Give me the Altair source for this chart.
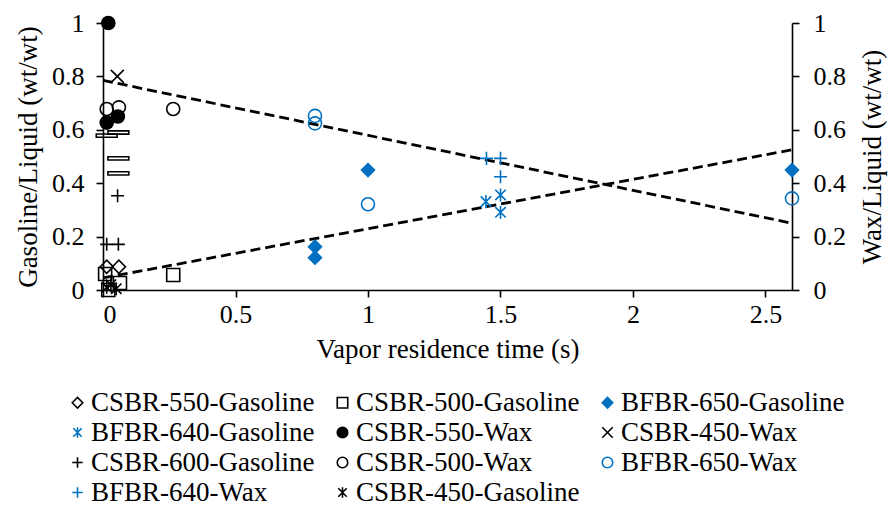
import altair as alt
import pandas as pd

# ---------------- data ----------------
legend_series = [
    "CSBR-550-Gasoline", "CSBR-500-Gasoline", "BFBR-650-Gasoline",
    "BFBR-640-Gasoline", "CSBR-550-Wax", "CSBR-450-Wax",
    "CSBR-600-Gasoline", "CSBR-500-Wax", "BFBR-650-Wax",
    "BFBR-640-Wax", "CSBR-450-Gasoline",
]
extra_series = ["CSBR-600-Wax"]  # drawn but not listed in the legend
all_series = legend_series + extra_series

csbr550_gas_x = [0.014, 0.06]
csbr550_gas_y = [0.087, 0.087]
csbr500_gas_x = [0.008, 0.064, 0.265, 0.02]
csbr500_gas_y = [0.06, 0.026, 0.056, 0.0]
bfbr650_gas_x = [0.8, 0.8, 1.0, 2.6]
bfbr650_gas_y = [0.162, 0.121, 0.449, 0.449]
bfbr640_gas_x = [1.445, 1.5, 1.5]
bfbr640_gas_y = [0.331, 0.356, 0.291]
csbr550_wax_x = [0.02, 0.014, 0.056]
csbr550_wax_y = [1.0, 0.627, 0.65]
csbr450_wax_x = [0.054]
csbr450_wax_y = [0.8]
csbr600_gas_x = [0.055, 0.014, 0.058]
csbr600_gas_y = [0.353, 0.171, 0.171]
csbr500_wax_x = [0.014, 0.06, 0.265]
csbr500_wax_y = [0.678, 0.684, 0.678]
bfbr650_wax_x = [0.8, 0.8, 1.0, 2.6]
bfbr650_wax_y = [0.652, 0.624, 0.321, 0.343]
bfbr640_wax_x = [1.447, 1.5, 1.5]
bfbr640_wax_y = [0.493, 0.493, 0.424]
csbr450_gas_x = [0.014, 0.03, 0.05]
csbr450_gas_y = [0.01, 0.02, 0.005]
csbr600_wax_x = [0.014, 0.058, 0.058, 0.058]
csbr600_wax_y = [0.578, 0.59, 0.493, 0.437]

trend_x = [0.0, 2.6]
wax_trend_y = [0.785, 0.25]
gas_trend_y = [0.045, 0.525]

x_ticks = [0, 0.5, 1, 1.5, 2, 2.5]
y_ticks = [0, 0.2, 0.4, 0.6, 0.8, 1]

# ---------------- styles ----------------
BLUE = "#0070C0"
PLUS = "M-1,0H1M0,-1V1"
XMARK = "M-1,-1L1,1M-1,1L1,-1"
STAR = "M-0.8,-0.8L0.8,0.8M-0.8,0.8L0.8,-0.8M0,-1V1"
DASH = "M-1.6,-0.25H1.6V0.25H-1.6Z"

shape_range = ["diamond", "square", "diamond", STAR, "circle", XMARK,
               PLUS, "circle", "circle", PLUS, STAR, DASH]
stroke_range = ["black", "black", BLUE, BLUE, "black", "black",
                "black", "black", BLUE, BLUE, "black", "black"]
fill_range = ["transparent", "transparent", BLUE, "transparent", "black", "transparent",
              "transparent", "transparent", "transparent", "transparent", "transparent", "transparent"]

series_data = [
    ("CSBR-550-Gasoline", csbr550_gas_x, csbr550_gas_y),
    ("CSBR-500-Gasoline", csbr500_gas_x, csbr500_gas_y),
    ("BFBR-650-Gasoline", bfbr650_gas_x, bfbr650_gas_y),
    ("BFBR-640-Gasoline", bfbr640_gas_x, bfbr640_gas_y),
    ("CSBR-550-Wax", csbr550_wax_x, csbr550_wax_y),
    ("CSBR-450-Wax", csbr450_wax_x, csbr450_wax_y),
    ("CSBR-600-Gasoline", csbr600_gas_x, csbr600_gas_y),
    ("CSBR-500-Wax", csbr500_wax_x, csbr500_wax_y),
    ("BFBR-650-Wax", bfbr650_wax_x, bfbr650_wax_y),
    ("BFBR-640-Wax", bfbr640_wax_x, bfbr640_wax_y),
    ("CSBR-450-Gasoline", csbr450_gas_x, csbr450_gas_y),
    ("CSBR-600-Wax", csbr600_wax_x, csbr600_wax_y),
]
rows = []
for name, xs, ys in series_data:
    for xv, yv in zip(xs, ys):
        rows.append({"series": name, "t": xv, "v": yv})
df = pd.DataFrame(rows)

trend_rows = []
for name, ys in [("wax", wax_trend_y), ("gas", gas_trend_y)]:
    for xv, yv in zip(trend_x, ys):
        trend_rows.append({"trend": name, "t": xv, "v": yv})
tdf = pd.DataFrame(trend_rows)

FONT = "Liberation Serif, Times New Roman, DejaVu Serif, serif"

leg = alt.Legend(
    title=None, values=legend_series, orient="none", legendX=-39, legendY=366,
    direction="horizontal", columns=3, columnPadding=14, rowPadding=2,
    labelFontSize=27, labelFont=FONT,
    labelColor="black", labelLimit=600, labelOffset=0, symbolSize=110,
    symbolStrokeWidth=1.6, padding=0,
)

x_enc = alt.X("t:Q", scale=alt.Scale(domain=[0, 2.6], nice=False, zero=False),
              axis=alt.Axis(values=x_ticks, format="~g", title="Vapor residence time (s)",
                            labelPadding=4, titlePadding=9))

points = alt.Chart(df).mark_point(filled=False, size=170, strokeWidth=1.6, opacity=1).encode(
    x=x_enc,
    y=alt.Y("v:Q", scale=alt.Scale(domain=[0, 1], nice=False),
            axis=alt.Axis(orient="left", values=y_ticks, format="~g",
                          title="Gasoline/Liquid (wt/wt)", labelPadding=12, titlePadding=9)),
    shape=alt.Shape("series:N", scale=alt.Scale(domain=all_series, range=shape_range), legend=leg),
    color=alt.Color("series:N", scale=alt.Scale(domain=all_series, range=stroke_range), legend=leg),
    fill=alt.Fill("series:N", scale=alt.Scale(domain=all_series, range=fill_range), legend=leg),
)

lines = alt.Chart(tdf).mark_line(strokeDash=[10, 5], strokeWidth=2.8, color="black").encode(
    x=alt.X("t:Q", scale=alt.Scale(domain=[0, 2.6], nice=False, zero=False)),
    y=alt.Y("v:Q", scale=alt.Scale(domain=[0, 1], nice=False),
            axis=alt.Axis(orient="right", values=y_ticks, format="~g",
                          title="Wax/Liquid (wt/wt)", titleAngle=270, titleBaseline="top",
                          labelPadding=14, titlePadding=14)),
    detail="trend:N",
)

chart = alt.layer(lines, points).resolve_scale(y="independent").properties(
    width=689, height=267, autosize=alt.AutoSizeParams(type="none"),
    padding={"left": 103, "top": 23, "right": 102, "bottom": 219},
).configure_view(stroke=None).configure_axis(
    grid=False, domainColor="black", domainWidth=1.6, tickColor="black", tickWidth=1.6,
    tickSize=7, labelFont=FONT, titleFont=FONT, labelFontSize=26, titleFontSize=27,
    labelColor="black", titleColor="black", titleFontWeight="normal",
)

chart.save("out.html", embed_options={"renderer": "svg", "actions": False})
